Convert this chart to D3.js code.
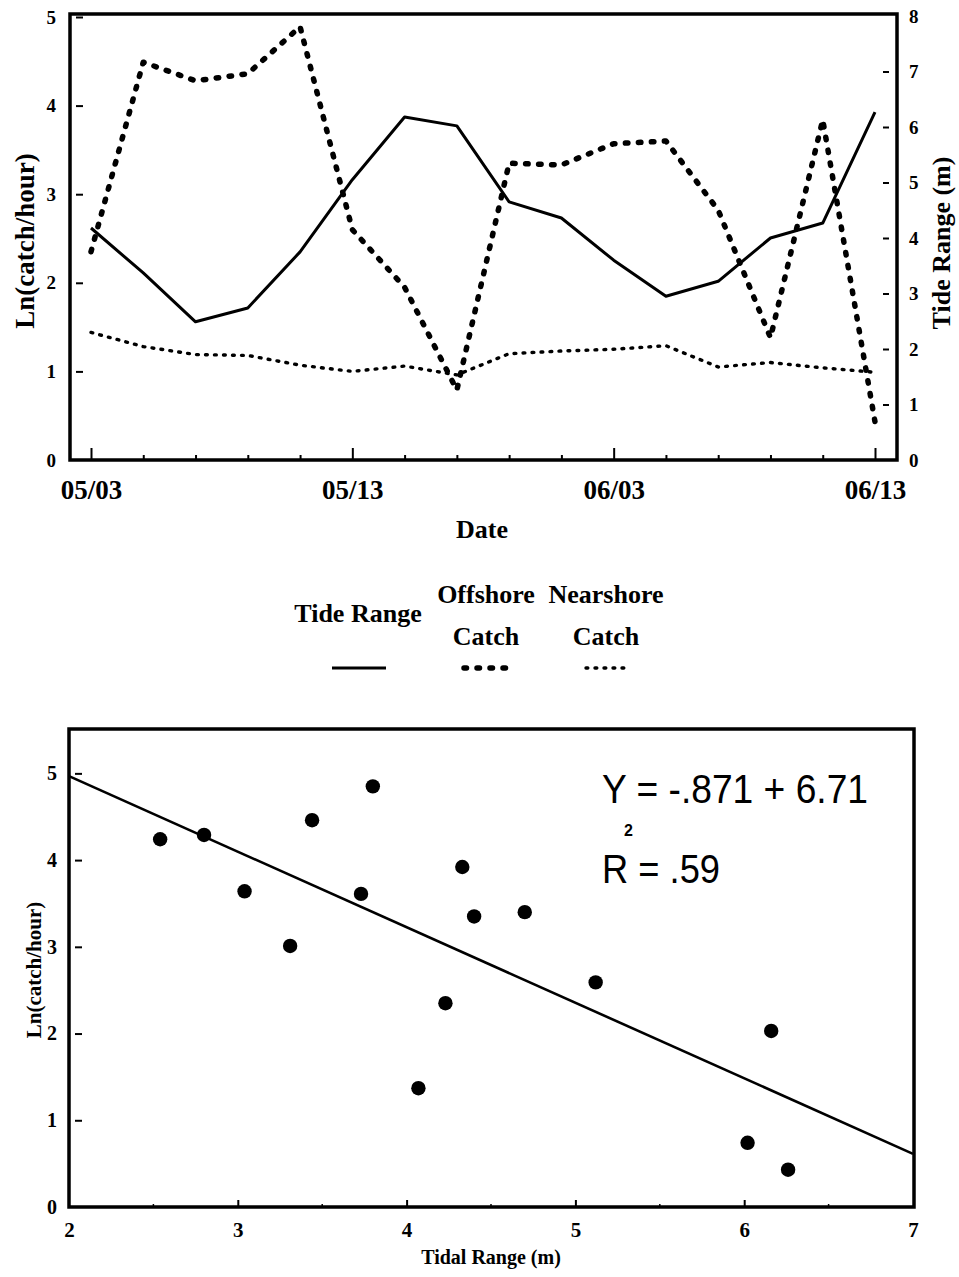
<!DOCTYPE html>
<html>
<head>
<meta charset="utf-8">
<script src="https://cdn.jsdelivr.net/npm/d3@7"></script>
<style>
  html, body { margin: 0; padding: 0; background: #fff; }
  svg { display: block; }
  text { fill: #000; }
</style>
</head>
<body>
<svg id="chart" width="959" height="1277"></svg>
<script>
// ---------------- DATA ----------------
// Sampling dates (categorical, evenly spaced on the plot)
const dates = ["05/03","05/05","05/07","05/09","05/11","05/13","05/17","05/21",
               "05/25","05/29","06/03","06/05","06/07","06/09","06/11","06/13"];
const dateTickLabels = ["05/03","05/13","06/03","06/13"];
// Tide range (m), right axis
const tideRange = [4.18, 3.37, 2.49, 2.74, 3.75, 5.05, 6.18, 6.02,
                   4.65, 4.36, 3.60, 2.95, 3.22, 4.00, 4.27, 6.27];
// Offshore catch, Ln(catch/hour), left axis
const offshoreCatch = [2.35, 4.49, 4.28, 4.36, 4.89, 2.60, 1.95, 0.79,
                       3.35, 3.33, 3.57, 3.60, 2.82, 1.38, 3.84, 0.43];
// Nearshore catch, Ln(catch/hour), left axis
const nearshoreCatch = [1.44, 1.28, 1.19, 1.18, 1.07, 1.00, 1.06, 0.96,
                        1.20, 1.23, 1.25, 1.29, 1.05, 1.10, 1.04, 0.99];
const leftTicks = [0, 1, 2, 3, 4, 5];
const rightTicks = [0, 1, 2, 3, 4, 5, 6, 7, 8];

// Scatter: tidal range (m) vs Ln(catch/hour)
const scatterTidal = [2.54, 2.80, 3.04, 3.31, 3.44, 3.80, 3.73, 4.33,
                      4.40, 4.23, 4.07, 4.70, 5.12, 6.16, 6.02, 6.26];
const scatterCatch = [4.24, 4.29, 3.64, 3.01, 4.46, 4.85, 3.61, 3.92,
                      3.35, 2.35, 1.37, 3.40, 2.59, 2.03, 0.74, 0.43];
const regSlope = -0.871;
const regIntercept = 6.71;
const scatterXTicks = [2, 3, 4, 5, 6, 7];
const scatterXMinor = [2.5, 3.5, 4.5, 5.5, 6.5];
const scatterYTicks = [0, 1, 2, 3, 4, 5];

const legendItems = [
  {lines: ["Tide Range"], key: "tide"},
  {lines: ["Offshore", "Catch"], key: "off"},
  {lines: ["Nearshore", "Catch"], key: "near"}
];

// ---------------- DRAW ----------------
const svg = d3.select("#chart");
const SERIF = "'Liberation Serif', 'Times New Roman', serif";
const SANS = "'Liberation Sans', Arial, sans-serif";
const fmtInt = d3.format("d");

const styles = {
  tide: {w: 3, dash: null, cap: "butt"},
  off: {w: 5.5, dash: "2.5 10.5", cap: "round"},
  near: {w: 3.4, dash: "1.8 7.2", cap: "round"}
};

// ---- Top chart ----
const T = {left: 70, right: 897, top: 14, bottom: 460};
const x = d3.scalePoint().domain(dates).range([91, 875]);
const yL = d3.scaleLinear().domain([0, 5]).range([460, 17]);
const yR = d3.scaleLinear().domain([0, 8]).range([460, 16]);

const gTop = svg.append("g");

// frame
gTop.append("rect")
  .attr("x", T.left).attr("y", T.top)
  .attr("width", T.right - T.left).attr("height", T.bottom - T.top)
  .attr("fill", "none").attr("stroke", "#000").attr("stroke-width", 3.5);

// left axis
const gL = gTop.append("g").attr("transform", `translate(${T.left},0)`)
  .call(d3.axisLeft(yL).tickValues(leftTicks).tickFormat(fmtInt)
    .tickSizeInner(-12).tickSizeOuter(0).tickPadding(14));
gL.select(".domain").remove();
gL.selectAll(".tick line").attr("x1", 6).attr("x2", 13).attr("stroke-width", 2)
  .filter(d => d === 0).remove();
gL.selectAll(".tick text").attr("font-family", SERIF).attr("font-weight", "bold")
  .attr("font-size", 19).attr("fill", "#000");

// right axis
const gR = gTop.append("g").attr("transform", `translate(${T.right},0)`)
  .call(d3.axisRight(yR).tickValues(rightTicks).tickFormat(fmtInt)
    .tickSizeInner(-14).tickSizeOuter(0).tickPadding(12));
gR.select(".domain").remove();
gR.selectAll(".tick line").attr("x1", -14).attr("x2", -8).attr("stroke-width", 2)
  .filter(d => d === 0 || d === 8).remove();
gR.selectAll(".tick text").attr("font-family", SERIF).attr("font-weight", "bold")
  .attr("font-size", 19).attr("fill", "#000");

// bottom axis
const gX = gTop.append("g").attr("transform", `translate(0,${T.bottom})`)
  .call(d3.axisBottom(x).tickSizeInner(-5).tickSizeOuter(0).tickPadding(20)
    .tickFormat(d => dateTickLabels.includes(d) ? d : ""));
gX.select(".domain").remove();
gX.selectAll(".tick line").attr("stroke-width", 2)
  .attr("y2", d => dateTickLabels.includes(d) ? -12 : -5);
gX.selectAll(".tick text").attr("font-family", SERIF).attr("font-weight", "bold")
  .attr("font-size", 27).attr("fill", "#000");

// axis titles
gTop.append("text")
  .attr("transform", `translate(34,241) rotate(-90)`)
  .attr("text-anchor", "middle")
  .attr("font-family", SERIF).attr("font-weight", "bold").attr("font-size", 27)
  .text("Ln(catch/hour)");
gTop.append("text")
  .attr("transform", `translate(950,243) rotate(-90)`)
  .attr("text-anchor", "middle")
  .attr("font-family", SERIF).attr("font-weight", "bold").attr("font-size", 26)
  .text("Tide Range (m)");
gTop.append("text")
  .attr("x", 482).attr("y", 538)
  .attr("text-anchor", "middle")
  .attr("font-family", SERIF).attr("font-weight", "bold").attr("font-size", 26)
  .text("Date");

// lines
function drawLine(values, yScale, st) {
  const line = d3.line()
    .x((d, i) => x(dates[i]))
    .y(d => yScale(d));
  const p = gTop.append("path")
    .datum(values)
    .attr("d", line)
    .attr("fill", "none").attr("stroke", "#000")
    .attr("stroke-width", st.w)
    .attr("stroke-linecap", st.cap)
    .attr("stroke-linejoin", "round");
  if (st.dash) p.attr("stroke-dasharray", st.dash);
}
drawLine(nearshoreCatch, yL, styles.near);
drawLine(offshoreCatch, yL, styles.off);
drawLine(tideRange, yR, styles.tide);

// ---- Legend ----
const legendPos = [
  {cx: 358, textY: [622], lineX: [332, 386]},
  {cx: 486, textY: [603, 645], lineX: [464, 514]},
  {cx: 606, textY: [603, 645], lineX: [586, 630]}
];
const legend = svg.append("g");
legendItems.forEach((item, i) => {
  const pos = legendPos[i];
  item.lines.forEach((t, j) => {
    legend.append("text")
      .attr("x", pos.cx).attr("y", pos.textY[j])
      .attr("text-anchor", "middle")
      .attr("font-family", SERIF).attr("font-weight", "bold").attr("font-size", 26)
      .text(t);
  });
  const st = styles[item.key];
  const l = legend.append("line")
    .attr("x1", pos.lineX[0]).attr("x2", pos.lineX[1])
    .attr("y1", 668).attr("y2", 668)
    .attr("stroke", "#000").attr("stroke-width", st.w)
    .attr("stroke-linecap", st.cap);
  if (st.dash) l.attr("stroke-dasharray", st.dash);
});

// ---- Bottom chart ----
const B = {left: 69, right: 914, top: 729, bottom: 1207};
const sx = d3.scaleLinear().domain([2, 7]).range([69, 913]);
const sy = d3.scaleLinear().domain([0, 5.5]).range([1207, 730]);
const gBot = svg.append("g");

gBot.append("rect")
  .attr("x", B.left).attr("y", B.top)
  .attr("width", B.right - B.left).attr("height", B.bottom - B.top)
  .attr("fill", "none").attr("stroke", "#000").attr("stroke-width", 3.5);

const bL = gBot.append("g").attr("transform", `translate(${B.left},0)`)
  .call(d3.axisLeft(sy).tickValues(scatterYTicks).tickFormat(fmtInt)
    .tickSizeInner(-12).tickSizeOuter(0).tickPadding(12));
bL.select(".domain").remove();
bL.selectAll(".tick line").attr("x1", 6).attr("x2", 13).attr("stroke-width", 2)
  .filter(d => d === 0).remove();
bL.selectAll(".tick text").attr("font-family", SERIF).attr("font-weight", "bold")
  .attr("font-size", 20).attr("fill", "#000");

const bX = gBot.append("g").attr("transform", `translate(0,${B.bottom})`)
  .call(d3.axisBottom(sx).tickValues(scatterXTicks).tickSizeInner(-7).tickSizeOuter(0).tickPadding(15)
    .tickFormat(fmtInt));
bX.select(".domain").remove();
bX.selectAll(".tick line").attr("stroke-width", 2)
  .filter(d => d === 2 || d === 7).remove();
bX.selectAll(".tick text").attr("font-family", SERIF).attr("font-weight", "bold")
  .attr("font-size", 21).attr("fill", "#000");
gBot.append("g").selectAll("line").data(scatterXMinor).join("line")
  .attr("x1", d => sx(d)).attr("x2", d => sx(d))
  .attr("y1", B.bottom).attr("y2", B.bottom - 3)
  .attr("stroke", "#000").attr("stroke-width", 1.5);

gBot.append("text")
  .attr("transform", `translate(41,970) rotate(-90)`)
  .attr("text-anchor", "middle")
  .attr("font-family", SERIF).attr("font-weight", "bold").attr("font-size", 21)
  .text("Ln(catch/hour)");
gBot.append("text")
  .attr("x", 491).attr("y", 1264)
  .attr("text-anchor", "middle")
  .attr("font-family", SERIF).attr("font-weight", "bold").attr("font-size", 20)
  .text("Tidal Range (m)");

// regression line
const regX = d3.extent(sx.domain());
gBot.append("path")
  .datum(regX)
  .attr("d", d3.line().x(d => sx(d)).y(d => sy(regIntercept + regSlope * d)))
  .attr("fill", "none").attr("stroke", "#000").attr("stroke-width", 2.6);

// points
gBot.append("g").selectAll("circle").data(scatterTidal).join("circle")
  .attr("cx", d => sx(d))
  .attr("cy", (d, i) => sy(scatterCatch[i]))
  .attr("r", 7.2)
  .attr("fill", "#000");

// equation
gBot.append("text")
  .attr("x", 602).attr("y", 803)
  .attr("font-family", SANS).attr("font-size", 41)
  .attr("textLength", 266).attr("lengthAdjust", "spacingAndGlyphs")
  .text("Y = -.871 + 6.71");
gBot.append("text")
  .attr("x", 624).attr("y", 836)
  .attr("font-family", SANS).attr("font-weight", "bold").attr("font-size", 16)
  .text("2");
gBot.append("text")
  .attr("x", 602).attr("y", 883)
  .attr("font-family", SANS).attr("font-size", 41)
  .attr("textLength", 118).attr("lengthAdjust", "spacingAndGlyphs")
  .text("R = .59");
</script>
</body>
</html>
